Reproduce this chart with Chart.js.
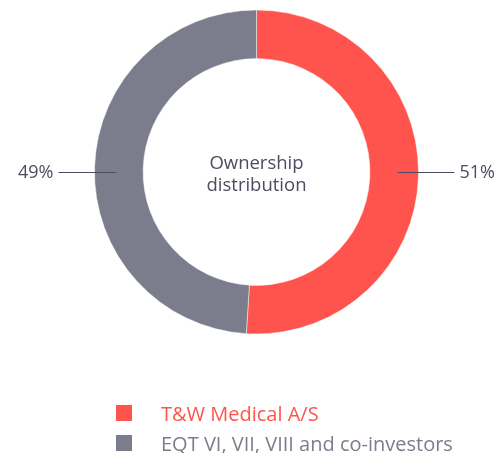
<!DOCTYPE html>
<html>
<head>
<meta charset="utf-8">
<script src="https://cdn.jsdelivr.net/npm/chart.js@4.4.1/dist/chart.umd.min.js"></script>
<style>
  html, body { margin: 0; padding: 0; background: #fff; }
  #wrap { position: relative; width: 500px; height: 453px; }
  #chart { position: absolute; left: 0; top: 0; }
  #legend { position: absolute; left: 116px; top: 398px; font-family: "Open Sans", sans-serif; font-size: 20px; }
  .item { display: flex; align-items: center; height: 30px; }
  .box { width: 16px; height: 16px; margin-right: 29px; }
</style>
</head>
<body>
<div id="wrap">
  <canvas id="chart" width="500" height="453"></canvas>
  <div id="legend"></div>
</div>
<script>
const labels = ["T&W Medical A/S", "EQT VI, VII, VIII and co-investors"];
const shares = [51, 49];
const colors = ["#ff544d", "#7b7d8d"];
const centerText = ["Ownership", "distribution"];
const textColor = "#4b4c5f";

// legend as html, from the same arrays
const legend = document.getElementById("legend");
labels.forEach((l, i) => {
    const row = document.createElement("div");
    row.className = "item";
    row.innerHTML = '<span class="box" style="background:' + colors[i] + '"></span><span style="color:' + colors[i] + '"></span>';
    row.lastChild.textContent = l;
    legend.appendChild(row);
});

const outsideLabels = {
    id: "outsideLabels",
    afterDraw(chart) {
        const ctx = chart.ctx;
        const arcs = chart.getDatasetMeta(0).data;
        ctx.save();
        ctx.font = '18px "Open Sans", sans-serif';
        ctx.fillStyle = textColor;
        ctx.strokeStyle = textColor;
        ctx.lineWidth = 1;
        ctx.textBaseline = "middle";
        arcs.forEach((arc, i) => {
            const mid = (arc.startAngle + arc.endAngle) / 2;
            const side = Math.cos(mid) >= 0 ? 1 : -1;
            const r0 = arc.outerRadius - 21;
            const r1 = arc.outerRadius + 36;
            const y = Math.round(arc.y) + 0.5;
            ctx.beginPath();
            ctx.moveTo(arc.x + side * r0, y);
            ctx.lineTo(arc.x + side * r1, y);
            ctx.stroke();
            ctx.textAlign = side > 0 ? "left" : "right";
            ctx.fillText(shares[i] + "%", arc.x + side * (r1 + 5), arc.y + 1);
        });
        // centre title
        const a = arcs[0];
        ctx.font = '18.5px "Open Sans", sans-serif';
        ctx.textAlign = "center";
        ctx.fillText(centerText[0], a.x, a.y - 8);
        ctx.fillText(centerText[1], a.x, a.y + 14);
        ctx.restore();
    }
};

new Chart(document.getElementById("chart"), {
    type: "doughnut",
    data: {
        labels: labels,
        datasets: [{
            data: shares,
            backgroundColor: colors,
            borderColor: "rgba(255,255,255,0.45)",
            borderWidth: 1
        }]
    },
    options: {
        responsive: false,
        animation: false,
        cutout: "70%",
        layout: { padding: { left: 94, right: 81, top: 9, bottom: 118 } },
        plugins: {
            legend: { display: false },
            tooltip: { enabled: false }
        }
    },
    plugins: [outsideLabels]
});
</script>
</body>
</html>
